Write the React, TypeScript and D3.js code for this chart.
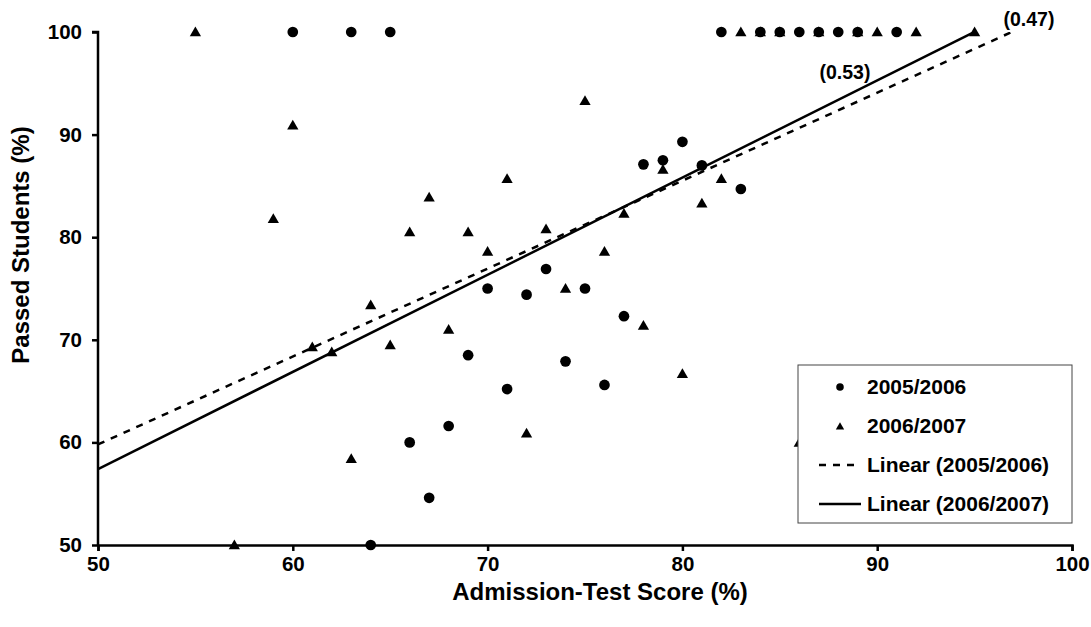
import { useRef, useEffect } from "react";
import * as d3 from "d3";

// 2005/2006 (circles)
const x0506 = [60, 63, 65, 82, 84, 85, 86, 87, 88, 89, 91, 80, 78, 79, 81, 83, 73, 70, 72, 75, 77, 69, 74, 66, 67, 68, 64, 71, 76];
const y0506 = [100, 100, 100, 100, 100, 100, 100, 100, 100, 100, 100, 89.3, 87.1, 87.5, 87.0, 84.7, 76.9, 75.0, 74.4, 75.0, 72.3, 68.5, 67.9, 60.0, 54.6, 61.6, 50, 65.2, 65.6];

// 2006/2007 (triangles)
const x0607 = [55, 83, 84, 85, 87, 89, 90, 92, 95, 60, 67, 59, 66, 64, 68, 61, 65, 62, 75, 79, 82, 81, 71, 69, 73, 77, 70, 76, 74, 78, 80, 63, 57, 72, 86];
const y0607 = [100, 100, 100, 100, 100, 100, 100, 100, 100, 90.9, 83.9, 81.8, 80.5, 73.4, 71.0, 69.3, 69.5, 68.8, 93.3, 86.6, 85.7, 83.3, 85.7, 80.5, 80.8, 82.3, 78.6, 78.6, 75.0, 71.4, 66.7, 58.4, 50, 60.9, 60];

// linear trendlines: value at x=50 and slope
const trendStart = [59.8, 57.4];
const trendSlope = [0.857, 0.947];
const trendLabels = ["(0.47)", "(0.53)"];

const xTicks = [50, 60, 70, 80, 90, 100];
const yTicks = [50, 60, 70, 80, 90, 100];
const legendLabels = ["2005/2006", "2006/2007", "Linear (2005/2006)", "Linear (2006/2007)"];

const W = 1091;
const H = 627;
const left = 98, right = 1072, top = 32, bottom = 545;
const font = "'Liberation Sans', Arial, sans-serif";

const App = () => {
  const svgRef = useRef(null);

  useEffect(() => {
    const svg = d3.select(svgRef.current);
    svg.selectAll("*").remove();

    const x = d3.scaleLinear().domain([50, 100]).range([left, right]);
    const y = d3.scaleLinear().domain([50, 100]).range([bottom, top]);

    svg.append("defs").append("clipPath").attr("id", "plot")
      .append("rect").attr("x", left).attr("y", top).attr("width", right - left).attr("height", bottom - top);

    // axes
    const yAxis = svg.append("g").attr("transform", `translate(${left},0)`)
      .call(d3.axisLeft(y).tickValues(yTicks).tickSize(6).tickPadding(10).tickFormat(d3.format("d")));
    const xAxis = svg.append("g").attr("transform", `translate(0,${bottom})`)
      .call(d3.axisBottom(x).tickValues(xTicks).tickSize(6).tickPadding(5).tickFormat(d3.format("d")));
    [xAxis, yAxis].forEach((g) => {
      g.select(".domain").attr("stroke", "#000").attr("stroke-width", 2.5);
      g.selectAll(".tick line").attr("stroke", "#000").attr("stroke-width", 2.5);
      g.selectAll(".tick text").attr("fill", "#000").attr("font-family", font)
        .attr("font-weight", "bold").attr("font-size", 20.5);
    });
    yAxis.select(".domain").attr("d", `M-6,${top}H0V${bottom}`);

    // trend lines
    const lineGen = d3.line().x((d) => x(d[0])).y((d) => y(d[1]));
    const trends = svg.append("g").attr("clip-path", "url(#plot)");
    trendStart.forEach((s, i) => {
      const pts = [[50, s], [100, s + trendSlope[i] * 50]];
      trends.append("path").attr("d", lineGen(pts)).attr("fill", "none")
        .attr("stroke", "#000").attr("stroke-width", 2.5)
        .attr("stroke-dasharray", i === 0 ? "7,7" : null);
    });

    // points
    const circ = d3.symbol().type(d3.symbolCircle).size(90);
    const tri = d3.symbol().type(d3.symbolTriangle).size(55);
    svg.append("g").selectAll("path").data(d3.range(x0506.length)).join("path")
      .attr("d", circ).attr("fill", "#000")
      .attr("transform", (i) => `translate(${x(x0506[i])},${y(y0506[i])})`);
    svg.append("g").selectAll("path").data(d3.range(x0607.length)).join("path")
      .attr("d", tri).attr("fill", "#000")
      .attr("transform", (i) => `translate(${x(x0607[i])},${y(y0607[i]) + 1})`);

    // correlation labels
    svg.append("text").attr("x", 1029).attr("y", 26).attr("text-anchor", "middle")
      .attr("font-family", font).attr("font-weight", "bold").attr("font-size", 19.5).text(trendLabels[0]);
    svg.append("text").attr("x", 845).attr("y", 79).attr("text-anchor", "middle")
      .attr("font-family", font).attr("font-weight", "bold").attr("font-size", 19.5).text(trendLabels[1]);

    // legend
    const lg = svg.append("g");
    lg.append("rect").attr("x", 798).attr("y", 365).attr("width", 274).attr("height", 158)
      .attr("fill", "#fff").attr("stroke", "#444").attr("stroke-width", 1);
    const rowY = [387, 426, 465, 504];
    legendLabels.forEach((t, i) => {
      if (i === 0) lg.append("path").attr("d", d3.symbol().type(d3.symbolCircle).size(45)())
        .attr("transform", `translate(840,${rowY[i]})`);
      if (i === 1) lg.append("path").attr("d", d3.symbol().type(d3.symbolTriangle).size(30)())
        .attr("transform", `translate(840,${rowY[i] + 1})`);
      if (i >= 2) lg.append("line").attr("x1", 819).attr("x2", 861).attr("y1", rowY[i]).attr("y2", rowY[i])
        .attr("stroke", "#000").attr("stroke-width", 2.5).attr("stroke-dasharray", i === 2 ? "7,7" : null);
      lg.append("text").attr("x", 867).attr("y", rowY[i]).attr("dy", "0.35em")
        .attr("font-family", font).attr("font-weight", "bold").attr("font-size", 21).text(t);
    });

    // axis titles
    svg.append("text").attr("x", 600).attr("y", 600).attr("text-anchor", "middle")
      .attr("font-family", font).attr("font-weight", "bold").attr("font-size", 24)
      .text("Admission-Test Score (%)");
    svg.append("text").attr("transform", "translate(29,245) rotate(-90)").attr("text-anchor", "middle")
      .attr("font-family", font).attr("font-weight", "bold").attr("font-size", 24)
      .text("Passed Students (%)");
  }, []);

  return (
    <svg ref={svgRef} width={W} height={H}
      style={{ position: "absolute", left: 0, top: 0, background: "#fff" }} />
  );
};

export default App;
